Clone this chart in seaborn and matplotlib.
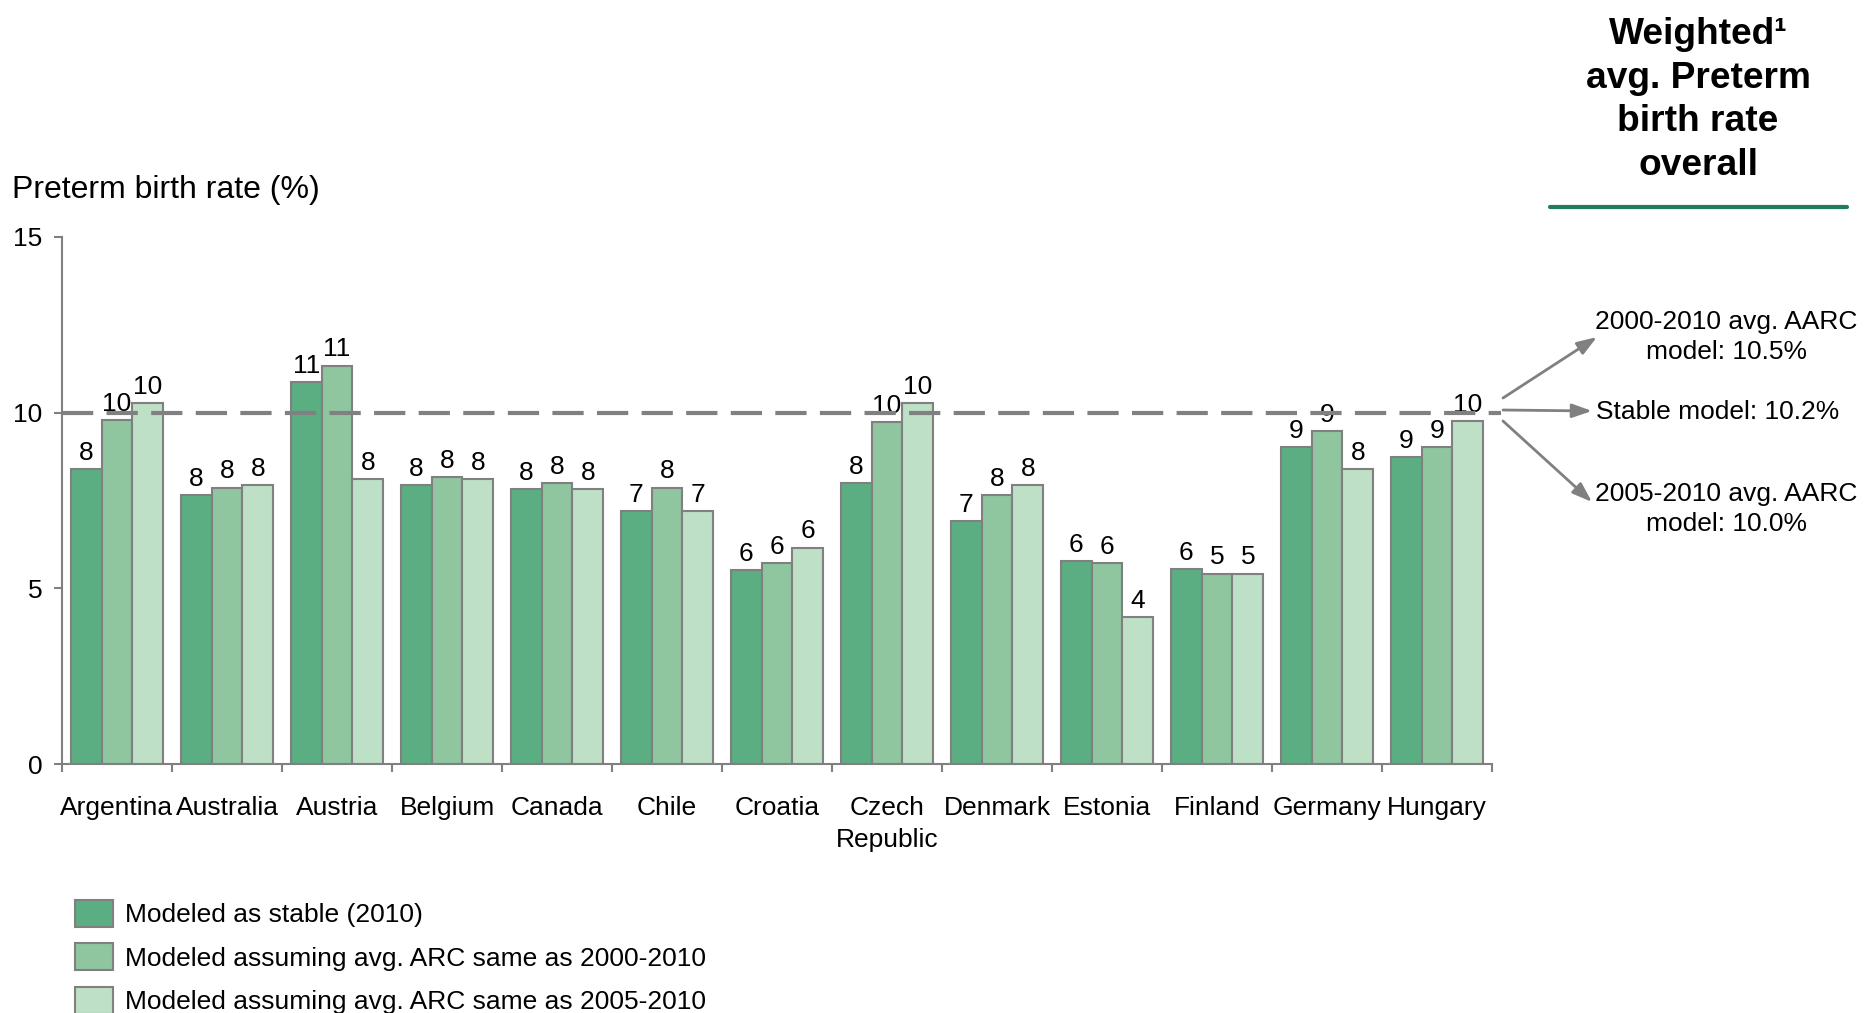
import matplotlib
matplotlib.use("Agg")
import matplotlib.pyplot as plt
from matplotlib.patches import Patch
import seaborn as sns
import pandas as pd

# Countries and modeled preterm birth rates (%)
countries = ["Argentina", "Australia", "Austria", "Belgium", "Canada", "Chile",
             "Croatia", "Czech\nRepublic", "Denmark", "Estonia", "Finland",
             "Germany", "Hungary"]
stable_2010 = [8.40, 7.66, 10.88, 7.93, 7.82, 7.19, 5.52, 7.99, 6.91, 5.77, 5.54, 9.01, 8.73]
arc_2000_2010 = [9.80, 7.87, 11.34, 8.16, 7.99, 7.87, 5.72, 9.74, 7.65, 5.72, 5.42, 9.47, 9.01]
arc_2005_2010 = [10.27, 7.93, 8.10, 8.10, 7.82, 7.19, 6.16, 10.27, 7.93, 4.18, 5.42, 8.39, 9.75]

series_names = ["Modeled as stable (2010)",
                "Modeled assuming avg. ARC same as 2000-2010",
                "Modeled assuming avg. ARC same as 2005-2010"]
series_colors = ["#5bad82", "#8fc6a0", "#bde0c6"]

weighted_avg = 10.0
ytick_values = [0, 5, 10, 15]
side_title = "Weighted\u00b9\navg. Preterm\nbirth rate\noverall"
side_notes = ["2000-2010 avg. AARC\nmodel: 10.5%",
              "Stable model: 10.2%",
              "2005-2010 avg. AARC\nmodel: 10.0%"]

df = pd.DataFrame({
    "country": countries * 3,
    "rate": stable_2010 + arc_2000_2010 + arc_2005_2010,
    "model": [series_names[0]] * len(countries) + [series_names[1]] * len(countries)
             + [series_names[2]] * len(countries),
})

sns.set_theme(style="white")
plt.rcParams["font.family"] = ["Liberation Sans", "DejaVu Sans"]
plt.rcParams["text.color"] = "black"
plt.rcParams["axes.labelcolor"] = "black"

GRAY = "#808080"
FS = 19

W, H = 1864, 1013
fig = plt.figure(figsize=(W / 100, H / 100), dpi=100)
ax = fig.add_axes([62 / W, 1 - 764 / H, (1492 - 62) / W, (764 - 237) / H])

sns.barplot(data=df, x="country", y="rate", hue="model", hue_order=series_names,
            order=countries, palette=series_colors, saturation=1, width=0.84,
            edgecolor=GRAY, linewidth=1.5, legend=False, ax=ax)

for cont in ax.containers:
    ax.bar_label(cont, fmt="%.0f", padding=3, fontsize=FS, color="black")

# Weighted average reference line
ax.hlines(weighted_avg, -0.5, 12.58, colors=GRAY, linewidth=3,
          linestyles=(0, (7.5, 3.2)), zorder=5, clip_on=False)

ax.set_xlim(-0.5, len(countries) - 0.5)
ax.set_ylim(0, 15)
ax.set_yticks(ytick_values)
ax.set_xlabel("")
ax.set_ylabel("")

for side in ["top", "right"]:
    ax.spines[side].set_visible(False)
for side in ["left", "bottom"]:
    ax.spines[side].set_color(GRAY)
    ax.spines[side].set_linewidth(1.5)

ax.tick_params(axis="y", which="major", left=True, length=6, width=1.5,
               color=GRAY, labelsize=FS, pad=8, labelcolor="black")
ax.tick_params(axis="x", which="major", bottom=False, length=0,
               labelsize=FS, pad=23, labelcolor="black")
ax.set_xticks([i - 0.5 for i in range(len(countries) + 1)], minor=True)
ax.tick_params(axis="x", which="minor", bottom=True, length=6, width=1.5,
               color=GRAY)
for lbl in ax.get_xticklabels():
    lbl.set_linespacing(1.42)
    lbl.set_va("top")

fig.text(12 / W, 1 - 190 / H, "Preterm birth rate (%)", fontsize=23,
         va="center", ha="left")

# Side panel: overall weighted average
fig.text(1698 / W, 1 - 100 / H, side_title, fontsize=26.7, fontweight="bold",
         ha="center", va="center", linespacing=1.33)
fig.add_artist(plt.Line2D([1550 / W, 1847 / W], [1 - 207 / H, 1 - 207 / H],
                          color="#207d5c", linewidth=3))

note_pos = [(1726, 337), (1718, 412), (1726, 509)]
arrow_ends = [(1597, 337), (1592, 411), (1592, 502)]
arrow_starts = [(1503, 398), (1503, 410), (1503, 421)]
for note, (tx, ty) in zip(side_notes, note_pos):
    fig.text(tx / W, 1 - ty / H, note, fontsize=FS, ha="center", va="center",
             linespacing=1.35)
for (sx, sy), (ex, ey) in zip(arrow_starts, arrow_ends):
    ax.annotate("", xy=(ex / W, 1 - ey / H), xytext=(sx / W, 1 - sy / H),
                xycoords="figure fraction", textcoords="figure fraction",
                arrowprops=dict(arrowstyle="-|>,head_length=1.0,head_width=0.35",
                                color=GRAY, lw=2, shrinkA=0, shrinkB=0))

handles = [Patch(facecolor=c, edgecolor=GRAY, linewidth=1.5) for c in series_colors]
fig.legend(handles, series_names, loc="upper left",
           bbox_to_anchor=(75 / W, 1 - 900 / H), frameon=False, fontsize=FS,
           handlelength=1.45, handleheight=1.2, handletextpad=0.45,
           labelspacing=0.6, borderpad=0, borderaxespad=0)

fig.savefig("out.png", dpi=100)
